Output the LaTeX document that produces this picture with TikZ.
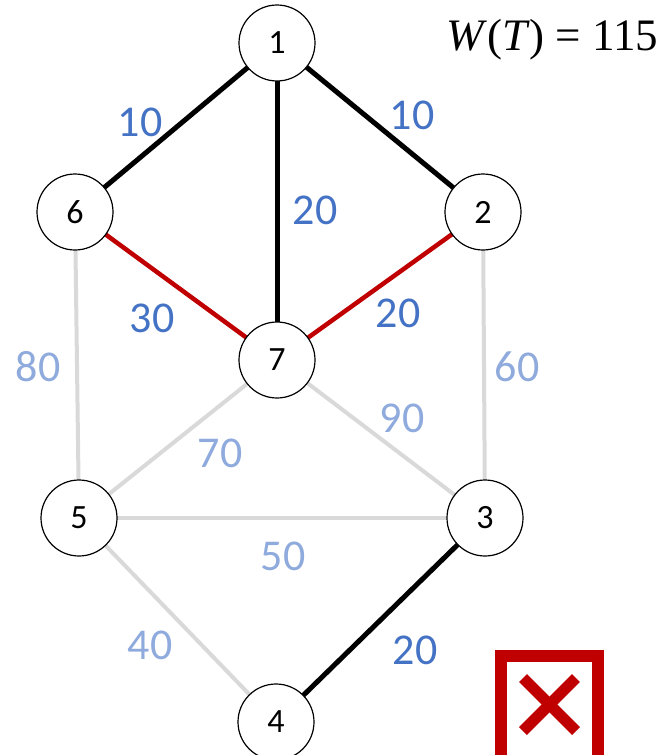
\documentclass[tikz,border=0pt]{standalone}
\usepackage{fontspec}
\setmainfont{Carlito}
\newfontfamily\timesfont{Liberation Serif}
\definecolor{lblue}{HTML}{4472C4}
\definecolor{llblue}{HTML}{8FAADC}
\definecolor{lgray}{HTML}{D9D9D9}
\definecolor{dred}{HTML}{C00000}
\begin{document}
\begin{tikzpicture}[x=1pt,y=-1pt,
  vtx/.style={circle,draw=black,line width=1.2pt,fill=white,minimum size=76pt,inner sep=0pt,font=\fontsize{34}{36}\selectfont},
  tree/.style={line width=5pt,black},
  red/.style={line width=4.5pt,dred},
  gray/.style={line width=4pt,lgray},
  wlab/.style={font=\fontsize{44}{46}\selectfont,text=lblue},
  glab/.style={font=\fontsize{44}{46}\selectfont,text=llblue}]
\useasboundingbox (0,0) rectangle (664,755);
\clip (0,0) rectangle (664,755);
\coordinate (c1) at (277,43);
\coordinate (c6) at (75,212);
\coordinate (c2) at (483,212);
\coordinate (c7) at (277,360);
\coordinate (c5) at (79,518);
\coordinate (c3) at (485,518);
\coordinate (c4) at (276,722);
% edges
\draw[gray] (c6) -- (c5);
\draw[gray] (c2) -- (c3);
\draw[gray] (c7) -- (c5);
\draw[gray] (c7) -- (c3);
\draw[gray] (c5) -- (c3);
\draw[gray] (c5) -- (c4);
\draw[red] (c6) -- (c7);
\draw[red] (c2) -- (c7);
\draw[tree] (c1) -- (c6);
\draw[tree] (c1) -- (c2);
\draw[tree] (c1) -- (c7);
\draw[tree] (c3) -- (c4);
% nodes
\node[vtx] (n1) at (c1) {1};
\node[vtx] (n6) at (c6) {6};
\node[vtx] (n2) at (c2) {2};
\node[vtx] (n7) at (c7) {7};
\node[vtx] (n5) at (c5) {5};
\node[vtx] (n3) at (c3) {3};
\node[vtx] (n4) at (c4) {4};
% labels
\node[wlab] (l16) at (140,122) {10};
\node[wlab] (l12) at (412,115) {10};
\node[wlab] (l17) at (315,210) {20};
\node[wlab] (l67) at (152,318) {30};
\node[wlab] (l27) at (398,313) {20};
\node[glab] (l65) at (38,367) {80};
\node[glab] (l23) at (517,367) {60};
\node[glab] (l73) at (402,418) {90};
\node[glab] (l75) at (220,453) {70};
\node[glab] (l53) at (283,556) {50};
\node[glab] (l54) at (150,645) {40};
\node[wlab] (l34) at (415,650) {20};
% title
\node[font=\timesfont\fontsize{45}{47}\selectfont,anchor=west,inner sep=0pt] (title) at (446,40) {\textit{W}(\textit{T}) = 115};
% cross box
\draw[dred,line width=12pt] (501,656) rectangle (598,770);
\draw[dred,line width=11pt] (523,678) -- (576,731);
\draw[dred,line width=11pt] (523,731) -- (576,678);
\end{tikzpicture}
\end{document}
